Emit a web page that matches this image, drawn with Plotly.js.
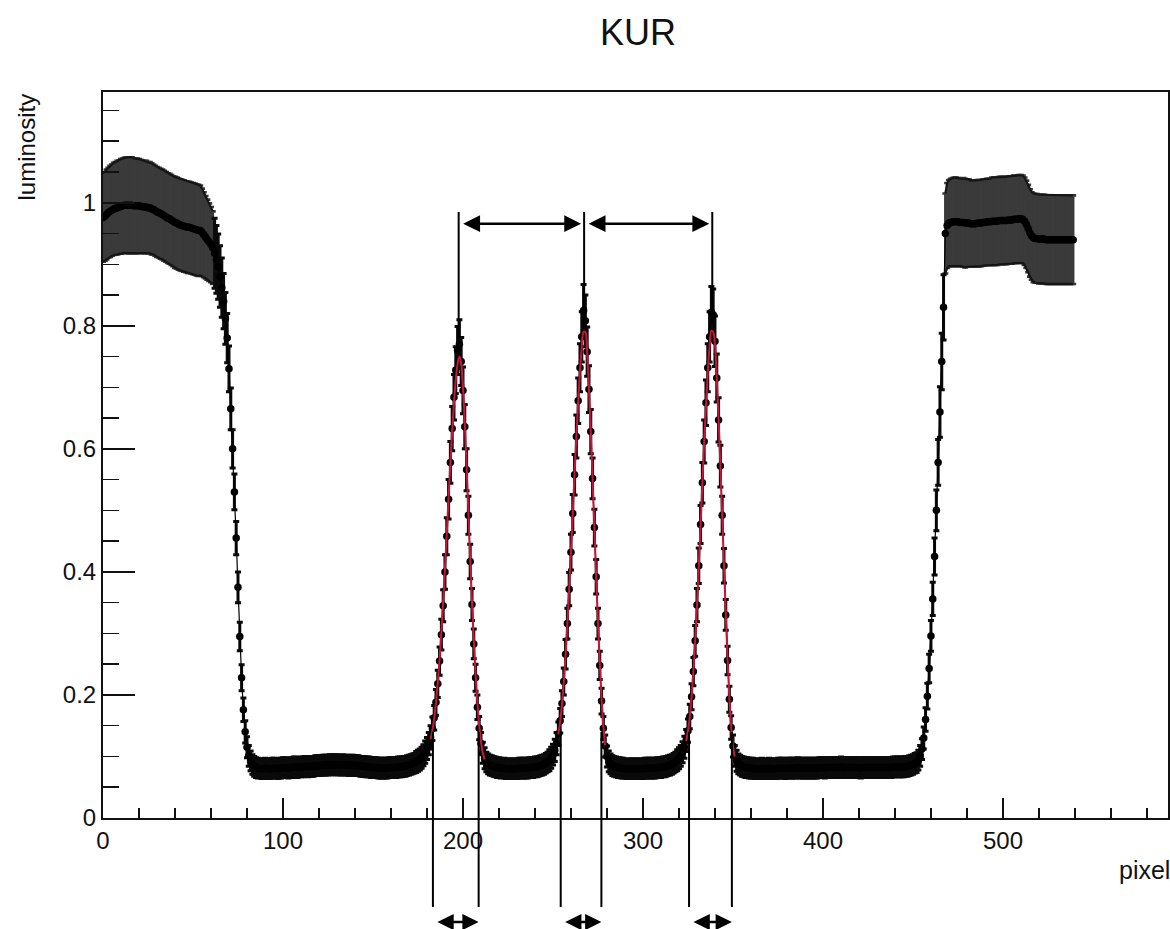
<!DOCTYPE html>
<html>
<head>
<meta charset="utf-8">
<script src="https://cdn.plot.ly/plotly-3.0.1.min.js"></script>
<style>
  html, body { margin: 0; padding: 0; background: #fff; }
  #chart { width: 1170px; height: 929px; }
</style>
</head>
<body>
<div id="chart"></div>
<script>
// Luminosity profile along the scan line (one value per pixel), with its uncertainty.
// The profile is stored in consecutive pixel ranges; each range starts at *_from.

const brightL_from = 0;
const brightL_lum = [
  0.976,0.978,0.981,0.984,0.986,0.988,0.990,0.991,0.992,0.993,
  0.994,0.995,0.996,0.996,0.996,0.996,0.996,0.995,0.995,0.995,
  0.995,0.994,0.994,0.993,0.993,0.992,0.992,0.990,0.989,0.987,
  0.985,0.984,0.982,0.981,0.979,0.977,0.975,0.974,0.972,0.970,
  0.968,0.967,0.965,0.964,0.963,0.962,0.961,0.960,0.960,0.959,
  0.958,0.957,0.956,0.955,0.955,0.952,0.948,0.944,0.940,0.936,
  0.932,0.927];
const brightL_err = [
  0.072,0.072,0.073,0.073,0.074,0.074,0.075,0.075,0.076,0.076,
  0.077,0.077,0.077,0.078,0.078,0.078,0.078,0.077,0.077,0.077,
  0.076,0.076,0.075,0.075,0.075,0.074,0.074,0.074,0.073,0.073,
  0.073,0.073,0.073,0.073,0.073,0.073,0.073,0.073,0.073,0.073,
  0.074,0.074,0.074,0.074,0.074,0.074,0.074,0.074,0.074,0.074,
  0.074,0.074,0.074,0.074,0.073,0.071,0.069,0.067,0.065,0.063,
  0.061,0.059];

const fallL_from = 62;
const fallL_lum = [
  0.918,0.908,0.896,0.880,0.862,0.840,0.812,0.780,0.730,0.665,
  0.600,0.530,0.455,0.375,0.295,0.228,0.176,0.140,0.115,0.101,
  0.093,0.087,0.084];
const fallL_err = [
  0.057,0.055,0.053,0.050,0.048,0.045,0.042,0.040,0.037,0.034,
  0.031,0.029,0.027,0.025,0.023,0.021,0.019,0.018,0.017,0.017,
  0.016,0.016,0.016];

const floor1_from = 85;
const floor1_lum = [
  0.082,0.081,0.081,0.080,0.080,0.081,0.081,0.080,0.080,0.081,
  0.081,0.081,0.080,0.081,0.081,0.082,0.082,0.082,0.081,0.082,
  0.082,0.083,0.083,0.082,0.083,0.083,0.083,0.084,0.084,0.083,
  0.084,0.084,0.084,0.085,0.085,0.085,0.085,0.086,0.086,0.086,
  0.086,0.087,0.087,0.086,0.087,0.087,0.086,0.086,0.087,0.086,
  0.086,0.086,0.085,0.086,0.086,0.085,0.085,0.085,0.084,0.084,
  0.084,0.083,0.083,0.083,0.082,0.082,0.082,0.082,0.081,0.081,
  0.081,0.081,0.081,0.081,0.082,0.082,0.082,0.082,0.082,0.083,
  0.083,0.083,0.084,0.084,0.085,0.086,0.087,0.088,0.089,0.091,
  0.093];
const floor1_err = [
  0.016,0.016,0.015,0.016,0.016,0.016,0.015,0.016,0.016,0.016,
  0.016,0.015,0.016,0.016,0.016,0.016,0.016,0.015,0.016,0.016,
  0.016,0.016,0.016,0.016,0.015,0.016,0.016,0.016,0.016,0.016,
  0.016,0.016,0.016,0.016,0.016,0.016,0.016,0.016,0.016,0.016,
  0.016,0.016,0.016,0.016,0.016,0.016,0.016,0.016,0.016,0.016,
  0.016,0.016,0.016,0.016,0.016,0.016,0.016,0.016,0.016,0.016,
  0.016,0.016,0.016,0.016,0.016,0.016,0.016,0.016,0.016,0.016,
  0.016,0.016,0.016,0.016,0.016,0.016,0.016,0.016,0.016,0.016,
  0.016,0.016,0.016,0.016,0.016,0.016,0.016,0.016,0.016,0.017,
  0.017];

const peak1_from = 176;
const peak1_lum = [
  0.095,0.098,0.102,0.107,0.113,0.121,0.131,0.145,0.163,0.188,
  0.218,0.255,0.298,0.345,0.400,0.458,0.518,0.578,0.633,0.684,
  0.728,0.760,0.770,0.742,0.695,0.636,0.566,0.492,0.417,0.347,
  0.283,0.228,0.180,0.146,0.121,0.106,0.097,0.091,0.088,0.086];
const peak1_err = [
  0.017,0.017,0.017,0.018,0.018,0.018,0.019,0.019,0.020,0.021,
  0.022,0.023,0.025,0.026,0.028,0.030,0.032,0.034,0.036,0.037,
  0.038,0.039,0.040,0.039,0.038,0.036,0.034,0.031,0.028,0.026,
  0.024,0.022,0.020,0.019,0.018,0.017,0.017,0.016,0.016,0.016];

const floor2_from = 216;
const floor2_lum = [
  0.085,0.084,0.083,0.082,0.082,0.081,0.081,0.081,0.080,0.080,
  0.080,0.080,0.080,0.080,0.080,0.081,0.081,0.081,0.081,0.081,
  0.081,0.082,0.082,0.082,0.083,0.083,0.084,0.085,0.086,0.087,
  0.089,0.091,0.094,0.098];
const floor2_err = [
  0.016,0.016,0.016,0.016,0.016,0.016,0.015,0.016,0.016,0.016,
  0.016,0.016,0.016,0.016,0.016,0.016,0.016,0.016,0.016,0.016,
  0.016,0.016,0.016,0.016,0.016,0.016,0.016,0.016,0.016,0.016,
  0.016,0.016,0.017,0.017];

const peak2_from = 250;
const peak2_lum = [
  0.103,0.110,0.121,0.137,0.158,0.186,0.222,0.266,0.316,0.372,
  0.432,0.495,0.558,0.620,0.678,0.732,0.782,0.825,0.808,0.758,
  0.697,0.628,0.552,0.472,0.392,0.316,0.248,0.190,0.146,0.117,
  0.100,0.092,0.088];
const peak2_err = [
  0.017,0.018,0.018,0.019,0.020,0.021,0.022,0.024,0.025,0.027,
  0.029,0.031,0.033,0.035,0.037,0.039,0.041,0.042,0.042,0.040,
  0.038,0.036,0.033,0.030,0.028,0.025,0.023,0.021,0.019,0.018,
  0.017,0.017,0.016];

const floor3_from = 283;
const floor3_lum = [
  0.085,0.084,0.083,0.082,0.082,0.081,0.081,0.080,0.080,0.080,
  0.080,0.080,0.080,0.080,0.080,0.080,0.080,0.080,0.081,0.081,
  0.081,0.081,0.081,0.081,0.081,0.082,0.082,0.082,0.083,0.083,
  0.084,0.085,0.086,0.087,0.089,0.091,0.094,0.097];
const floor3_err = [
  0.016,0.016,0.016,0.016,0.016,0.016,0.016,0.015,0.016,0.016,
  0.016,0.016,0.016,0.016,0.016,0.016,0.016,0.016,0.016,0.016,
  0.016,0.016,0.016,0.016,0.016,0.016,0.016,0.016,0.016,0.016,
  0.016,0.016,0.016,0.016,0.016,0.016,0.017,0.017];

const peak3_from = 321;
const peak3_lum = [
  0.101,0.107,0.115,0.126,0.142,0.165,0.197,0.238,0.288,0.346,
  0.410,0.477,0.545,0.612,0.675,0.732,0.782,0.822,0.818,0.775,
  0.715,0.647,0.572,0.492,0.410,0.330,0.256,0.193,0.147,0.117,
  0.101,0.093,0.088];
const peak3_err = [
  0.017,0.017,0.018,0.018,0.019,0.020,0.021,0.023,0.025,0.027,
  0.029,0.031,0.033,0.035,0.037,0.039,0.041,0.042,0.042,0.041,
  0.039,0.036,0.034,0.031,0.028,0.025,0.023,0.021,0.019,0.018,
  0.017,0.017,0.016];

const floor4_from = 354;
const floor4_lum = [
  0.086,0.084,0.083,0.082,0.082,0.081,0.081,0.081,0.080,0.080,
  0.080,0.080,0.081,0.080,0.080,0.080,0.081,0.080,0.080,0.080,
  0.080,0.081,0.081,0.081,0.081,0.080,0.081,0.081,0.081,0.081,
  0.081,0.081,0.082,0.081,0.081,0.081,0.081,0.081,0.081,0.081,
  0.081,0.081,0.081,0.081,0.082,0.082,0.082,0.081,0.082,0.082,
  0.082,0.082,0.082,0.082,0.082,0.082,0.083,0.082,0.082,0.082,
  0.082,0.082,0.082,0.082,0.082,0.082,0.082,0.081,0.082,0.082,
  0.082,0.082,0.082,0.082,0.082,0.082,0.082,0.082,0.082,0.082,
  0.082,0.082,0.082,0.082,0.082,0.083,0.083,0.083,0.083,0.083,
  0.083,0.083,0.084,0.084,0.085,0.086,0.087,0.089];
const floor4_err = [
  0.016,0.016,0.016,0.016,0.016,0.016,0.016,0.016,0.016,0.016,
  0.016,0.016,0.016,0.016,0.016,0.016,0.016,0.016,0.016,0.016,
  0.016,0.016,0.016,0.016,0.016,0.016,0.016,0.016,0.016,0.016,
  0.016,0.016,0.016,0.016,0.016,0.016,0.016,0.016,0.016,0.016,
  0.016,0.016,0.016,0.016,0.016,0.016,0.016,0.016,0.016,0.016,
  0.016,0.016,0.016,0.016,0.016,0.016,0.016,0.016,0.016,0.016,
  0.016,0.016,0.016,0.016,0.016,0.016,0.016,0.016,0.016,0.016,
  0.016,0.016,0.016,0.016,0.016,0.016,0.016,0.016,0.016,0.016,
  0.016,0.016,0.016,0.016,0.016,0.016,0.016,0.016,0.016,0.016,
  0.016,0.016,0.016,0.016,0.016,0.016,0.016,0.016];

const riseR_from = 452;
const riseR_lum = [
  0.090,0.094,0.101,0.112,0.130,0.160,0.198,0.243,0.296,0.356,
  0.425,0.500,0.578,0.660,0.742,0.830];
const riseR_err = [
  0.016,0.016,0.017,0.017,0.018,0.019,0.021,0.023,0.025,0.027,
  0.030,0.033,0.037,0.041,0.046,0.053];

const brightR_from = 468;
const brightR_lum = [
  0.950,0.963,0.967,0.968,0.969,0.969,0.969,0.969,0.968,0.968,
  0.968,0.967,0.967,0.967,0.966,0.966,0.966,0.966,0.967,0.967,
  0.967,0.968,0.968,0.969,0.969,0.969,0.970,0.970,0.970,0.970,
  0.971,0.971,0.971,0.971,0.971,0.972,0.972,0.972,0.973,0.973,
  0.973,0.974,0.974,0.973,0.970,0.965,0.958,0.951,0.946,0.943,
  0.942,0.942,0.941,0.941,0.941,0.941,0.940,0.940,0.940,0.940,
  0.940,0.940,0.940,0.940,0.940,0.940,0.940,0.940,0.940,0.940,
  0.940,0.940];
const brightR_err = [
  0.065,0.069,0.070,0.071,0.071,0.072,0.072,0.071,0.071,0.071,
  0.072,0.072,0.071,0.071,0.070,0.070,0.070,0.070,0.070,0.070,
  0.070,0.070,0.070,0.070,0.070,0.070,0.071,0.071,0.071,0.071,
  0.071,0.071,0.071,0.071,0.071,0.071,0.071,0.071,0.071,0.071,
  0.071,0.071,0.071,0.071,0.071,0.071,0.071,0.071,0.071,0.072,
  0.072,0.072,0.072,0.072,0.072,0.072,0.072,0.072,0.072,0.072,
  0.072,0.072,0.072,0.072,0.072,0.072,0.072,0.072,0.072,0.072,
  0.072,0.072];

// Peak fits (one curve per slit image), sampled per pixel.
const fit1_from = 182;
const fit1_lum = [
  0.128,0.142,0.162,0.188,0.220,0.258,0.302,0.352,0.406,0.463,
  0.521,0.577,0.629,0.675,0.712,0.738,0.750,0.738,0.700,0.642,
  0.572,0.497,0.422,0.352,0.289,0.234,0.188,0.151,0.124,0.106,
  0.095];
const fit2_from = 253;
const fit2_lum = [
  0.136,0.157,0.185,0.221,0.265,0.316,0.373,0.434,0.497,0.560,
  0.621,0.677,0.726,0.765,0.790,0.790,0.755,0.698,0.628,0.551,
  0.471,0.392,0.318,0.251,0.194,0.149,0.118];
const fit3_from = 324;
const fit3_lum = [
  0.125,0.141,0.164,0.196,0.237,0.287,0.345,0.409,0.476,0.544,
  0.610,0.671,0.724,0.766,0.792,0.790,0.768,0.715,0.648,0.573,
  0.493,0.411,0.332,0.258,0.195,0.148,0.117,0.100];

// Peak positions (pixel), their heights, and the feet used for the width markers.
const peakCentre = [197.6, 267.3, 338.5];
const peakTop = [0.776, 0.797, 0.803];
const footLeft = [183.3, 254.3, 325.6];
const footRight = [208.7, 276.9, 349.4];
const footLevel = 0.14;
const centreLineTop = 0.985;
const spacingLevel = 0.966;

const xTickVals = [0, 100, 200, 300, 400, 500];
const xTickText = ['0', '100', '200', '300', '400', '500'];
const yTickVals = [0, 0.2, 0.4, 0.6, 0.8, 1];
const yTickText = ['0', '0.2', '0.4', '0.6', '0.8', '1'];

// ---- assemble the profile ----
// [first pixel, values, errors, bright?]
const ranges = [
  [brightL_from, brightL_lum, brightL_err, true],
  [fallL_from, fallL_lum, fallL_err, false],
  [floor1_from, floor1_lum, floor1_err, false],
  [peak1_from, peak1_lum, peak1_err, false],
  [floor2_from, floor2_lum, floor2_err, false],
  [peak2_from, peak2_lum, peak2_err, false],
  [floor3_from, floor3_lum, floor3_err, false],
  [peak3_from, peak3_lum, peak3_err, false],
  [floor4_from, floor4_lum, floor4_err, false],
  [riseR_from, riseR_lum, riseR_err, false],
  [brightR_from, brightR_lum, brightR_err, true]
];
const pixel = [], lum = [], err = [];
const bright = { x: [], y: [], e: [] }, dark = { x: [], y: [], e: [] };
const brightRuns = [];
ranges.forEach(([from, v, e, isBright]) => {
  const part = isBright ? bright : dark;
  v.forEach((y, i) => {
    pixel.push(from + i); lum.push(y); err.push(e[i]);
    part.x.push(from + i); part.y.push(y); part.e.push(e[i]);
  });
  if (isBright) brightRuns.push({ from: from, v: v, e: e });
});

// error bars only (markers hidden)
function errorTrace(part, colour, thickness) {
  return {
    x: part.x, y: part.y, type: 'scatter', mode: 'markers', hoverinfo: 'skip', showlegend: false,
    marker: { size: 0.1, color: 'rgba(0,0,0,0)' },
    error_y: { type: 'data', array: part.e, visible: true, color: colour, thickness: thickness, width: 3 }
  };
}

// dark outline where the error-bar ends of a bright plateau pile up
function edgeTraces(run) {
  const xs = run.v.map((_, i) => run.from + i);
  return [1, -1].map(sign => ({
    x: xs, y: run.v.map((y, i) => y + sign * run.e[i]),
    type: 'scatter', mode: 'lines', hoverinfo: 'skip', showlegend: false,
    line: { color: '#151515', width: 2.2 }
  }));
}

function fitTrace(from, values) {
  return {
    x: values.map((_, i) => from + i), y: values,
    type: 'scatter', mode: 'lines', hoverinfo: 'skip', showlegend: false,
    line: { color: '#c4163f', width: 2, shape: 'spline' }
  };
}

const FONT = 'Liberation Sans, Arial, Helvetica, sans-serif';
const W = 1170, H = 929;
const M = { l: 103, r: 2, t: 92, b: 111 };
const plotH = H - M.t - M.b;
const X_MAX = 591.7, Y_MAX = 1.18;
const dataToPaperY = v => v / Y_MAX;
const belowAxis = px => -px / plotH;

const shapes = [];
peakCentre.forEach((c, i) => {
  shapes.push({ type: 'line', xref: 'x', yref: 'y', x0: c, x1: c, y0: peakTop[i], y1: centreLineTop,
                line: { color: '#000', width: 2 } });
});
footLeft.concat(footRight).forEach(f => {
  shapes.push({ type: 'line', xref: 'x', yref: 'paper', x0: f, x1: f,
                y0: dataToPaperY(footLevel), y1: belowAxis(89),
                line: { color: '#000', width: 2 } });
});

const arrowStyle = {
  showarrow: true, text: '', arrowcolor: '#000', arrowwidth: 2.5,
  arrowhead: 2, startarrowhead: 2, arrowside: 'end+start',
  arrowsize: 1.35, startarrowsize: 1.35
};
const annotations = [];
for (let i = 0; i + 1 < peakCentre.length; i++) {
  annotations.push(Object.assign({}, arrowStyle, {
    xref: 'x', yref: 'y', axref: 'x', ayref: 'y',
    x: peakCentre[i + 1], y: spacingLevel, ax: peakCentre[i], ay: spacingLevel,
    standoff: 3, startstandoff: 3
  }));
}
footLeft.forEach((f, i) => {
  annotations.push(Object.assign({}, arrowStyle, {
    xref: 'x', yref: 'paper', axref: 'x', ayref: 'pixel',
    x: footRight[i], y: belowAxis(104), ax: f, ay: 0,
    standoff: 0, startstandoff: 3, arrowsize: 1.3, startarrowsize: 1.3
  }));
});
annotations.push({
  xref: 'paper', yref: 'paper', x: 0, y: 1, xanchor: 'center', yanchor: 'top',
  xshift: -77, textangle: -90, showarrow: false, text: 'luminosity',
  font: { family: FONT, size: 24, color: '#111' }
});
annotations.push({
  xref: 'paper', yref: 'paper', x: 1, y: belowAxis(52), xanchor: 'right', yanchor: 'middle',
  xshift: 4, showarrow: false, text: 'pixel',
  font: { family: FONT, size: 25, color: '#111' }
});

const data = [
  errorTrace(bright, '#3a3a3a', 2.6),
  errorTrace(dark, '#0a0a0a', 3)
].concat(
  brightRuns.flatMap(edgeTraces),
  [
    {
      x: pixel, y: lum, type: 'scatter', mode: 'lines+markers', showlegend: false,
      line: { color: '#000', width: 1.2 },
      marker: { color: '#000', size: 7.5 }
    },
    fitTrace(fit1_from, fit1_lum),
    fitTrace(fit2_from, fit2_lum),
    fitTrace(fit3_from, fit3_lum)
  ]
);

const axisCommon = {
  showgrid: false, zeroline: false, showline: true, mirror: true,
  linecolor: '#111', linewidth: 2,
  ticks: 'inside', tickcolor: '#111', tickwidth: 1.5,
  tickfont: { family: FONT, size: 24, color: '#111' }
};

const layout = {
  width: W, height: H, margin: M,
  paper_bgcolor: '#fff', plot_bgcolor: '#fff',
  font: { family: FONT, color: '#111' },
  title: { text: 'KUR', font: { family: FONT, size: 36, color: '#111' },
           xref: 'container', x: 0.5453, yref: 'container', y: 1 - 32 / H, yanchor: 'middle' },
  xaxis: Object.assign({}, axisCommon, {
    range: [0, X_MAX], tickmode: 'array', tickvals: xTickVals, ticktext: xTickText, ticklen: 20,
    minor: { dtick: 20, tick0: 0, ticks: 'inside', ticklen: 10, tickwidth: 1.5, tickcolor: '#111', showgrid: false }
  }),
  yaxis: Object.assign({}, axisCommon, {
    range: [0, Y_MAX], tickmode: 'array', tickvals: yTickVals, ticktext: yTickText, ticklen: 32,
    minor: { dtick: 0.05, tick0: 0, ticks: 'inside', ticklen: 16, tickwidth: 1.5, tickcolor: '#111', showgrid: false }
  }),
  shapes: shapes,
  annotations: annotations
};

Plotly.newPlot('chart', data, layout, { displayModeBar: false, staticPlot: true });
</script>
</body>
</html>
